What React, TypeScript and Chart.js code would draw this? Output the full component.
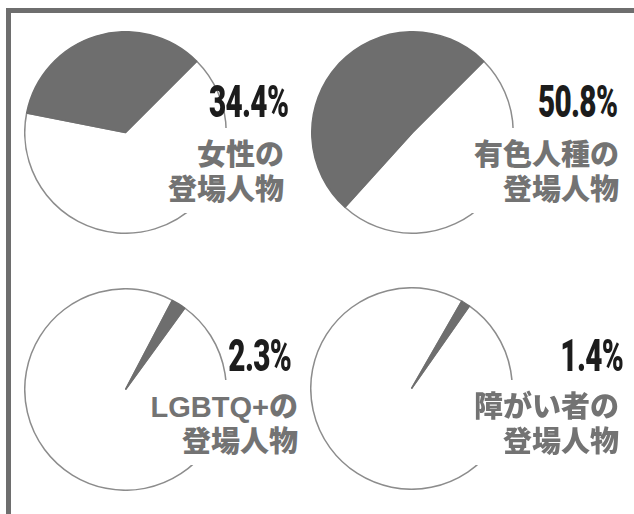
import React, { useEffect, useRef } from "react";
import { Chart, registerables } from "chart.js";

Chart.register(...registerables);

// ---- data ----
const shareValues = [34.4, 50.8, 2.3, 1.4];
const restValues = [65.6, 49.2, 97.7, 98.6];
const percentLabels = ["34.4%", "50.8%", "2.3%", "1.4%"];
const labelLine1 = ["女性の", "有色人種の", "LGBTQ+の", "障がい者の"];
const labelLine2 = ["登場人物", "登場人物", "登場人物", "登場人物"];
const rotations = [45, 45, 36, 35];

// ---- layout ----
const centers = [
  [125, 132],
  [412, 132],
  [125, 389],
  [411, 388],
];
const percentPos = [
  { right: 288, top: 79 },
  { right: 617, top: 79 },
  { right: 291, top: 333 },
  { right: 623, top: 333 },
];
const labelPos = [
  { right: 284, top: 128 },
  { right: 619, top: 128 },
  { right: 298, top: 380 },
  { right: 619, top: 380 },
];

const SIZE = 203;

function Pie({ idx }: { idx: number }) {
  const ref = useRef<HTMLCanvasElement | null>(null);
  useEffect(() => {
    if (!ref.current) return;
    const chart = new Chart(ref.current, {
      type: "pie",
      data: {
        labels: ["その他", "該当"],
        datasets: [
          {
            data: [restValues[idx], shareValues[idx]],
            backgroundColor: ["#ffffff", "#6e6e6e"],
            borderColor: ["#8c8c8c", "#6e6e6e"],
            borderWidth: 1.5,
            hoverOffset: 0,
          },
        ],
      },
      options: {
        responsive: false,
        animation: false,
        rotation: rotations[idx],
        layout: { padding: 0 },
        plugins: {
          legend: { display: false },
          tooltip: { enabled: false },
          title: { display: false },
        },
      },
    });
    return () => chart.destroy();
  }, [idx]);
  const [cx, cy] = centers[idx];
  return (
    <canvas
      ref={ref}
      width={SIZE}
      height={SIZE}
      style={{
        position: "absolute",
        left: cx - SIZE / 2,
        top: cy - SIZE / 2,
        width: SIZE,
        height: SIZE,
      }}
    />
  );
}

export default function App() {
  return (
    <div
      style={{
        position: "fixed",
        left: 0,
        top: 0,
        width: 634,
        height: 514,
        overflow: "hidden",
        background: "#ffffff",
      }}
    >
      <div
        style={{
          position: "absolute",
          left: 6,
          top: 8,
          width: 2000,
          height: 2000,
          border: "5px solid #6e6e6e",
        }}
      />
      {[0, 1, 2, 3].map((i) => (
        <Pie key={"p" + i} idx={i} />
      ))}
      {[0, 1, 2, 3].map((i) => (
        <div
          key={"l" + i}
          style={{
            position: "absolute",
            right: 634 - labelPos[i].right,
            top: labelPos[i].top,
            padding: "10px 0 5px 10px",
            background: "#ffffff",
            color: "#737373",
            fontFamily: "'Liberation Sans', 'Noto Sans CJK JP', sans-serif",
            fontWeight: 900,
            fontSize: 29,
            lineHeight: "35px",
            textAlign: "right",
            whiteSpace: "nowrap",
          }}
        >
          <div>{labelLine1[i]}</div>
          <div>{labelLine2[i]}</div>
        </div>
      ))}
      {[0, 1, 2, 3].map((i) => (
        <div
          key={"v" + i}
          style={{
            position: "absolute",
            right: 634 - percentPos[i].right,
            top: percentPos[i].top,
            color: "#1c1c1c",
            fontFamily: "Roboto, sans-serif",
            fontWeight: 900,
            fontSize: 45,
            lineHeight: "45px",
            letterSpacing: "-1px",
            whiteSpace: "nowrap",
            transform: "scaleX(0.66)",
            transformOrigin: "right center",
          }}
        >
          {percentLabels[i]}
        </div>
      ))}
    </div>
  );
}
